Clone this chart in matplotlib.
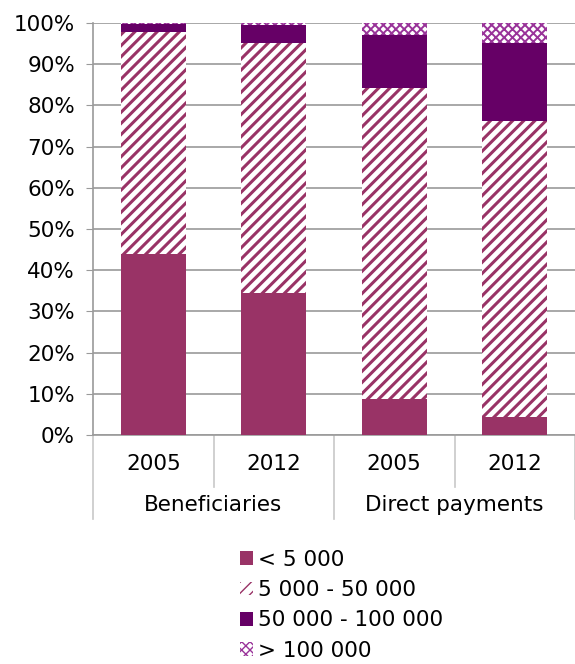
import matplotlib.pyplot as plt
import numpy as np

# ------------------ DATA ------------------ #
years = ["2005", "2012", "2005", "2012"]
groups = ["Beneficiaries", "Direct payments"]
series_labels = ["< 5 000", "5 000 - 50 000", "50 000 - 100 000", "> 100 000"]

small = [43.9, 34.5, 8.7, 4.4]
medium = [53.8, 60.6, 75.5, 71.8]
large = [2.1, 4.4, 12.9, 18.9]
very_large = [0.2, 0.5, 2.9, 4.9]

# ------------------ STYLE ------------------ #
plt.rcParams.update({
    "font.size": 15.5,
    "font.family": "DejaVu Sans",
})

FILL = "#993366"
DARK = "#660066"
CROSS = "#993399"
GRID = "#9a9a9a"

fig = plt.figure(figsize=(5.75, 6.64), dpi=100)
ax = fig.add_axes([93 / 575, 229 / 664, 1 - 93 / 575, 412 / 664])

x = np.arange(len(years))
w = 0.54
series = [small, medium, large, very_large]
styles = [
    (dict(color=FILL), 1.0),
    (dict(facecolor="white", edgecolor=FILL, hatch="///", linewidth=0), 2.2),
    (dict(color=DARK), 1.0),
    (dict(facecolor="white", edgecolor=CROSS, hatch="xxxx", linewidth=0), 1.4),
]

bottom = np.zeros(len(years))
handles = []
for vals, (st, hlw), lab in zip(series, styles, series_labels):
    with plt.rc_context({"hatch.linewidth": hlw}):
        b = ax.bar(x, vals, w, bottom=bottom, label=lab, zorder=3, **st)
    handles.append(b)
    bottom += np.array(vals)

ax.set_xlim(-0.5, len(years) - 0.5)
ax.set_ylim(0, 100)
ax.set_yticks(np.arange(0, 101, 10))
ax.set_yticklabels([f"{v}%" for v in range(0, 101, 10)])
ax.yaxis.grid(True, color=GRID, linewidth=1.2, zorder=0)
ax.tick_params(axis="y", length=5, color=GRID, pad=8)
ax.tick_params(axis="x", length=0)
ax.set_xticks([])
for s in ["top", "right"]:
    ax.spines[s].set_visible(False)
ax.spines["left"].set_color(GRID)
ax.spines["bottom"].set_color(GRID)
ax.spines["left"].set_linewidth(1.2)
ax.spines["bottom"].set_linewidth(1.2)

# category labels below the axis
trans = ax.get_xaxis_transform()
short_y = (435 - 487) / 412
long_y = (435 - 519) / 412
for i, yr in enumerate(years):
    ax.text(i, (435 - 464) / 412, yr, ha="center", va="center", transform=trans)
for k, g in enumerate(groups):
    ax.text(2 * k + 0.5, (435 - 505) / 412, g, ha="center", va="center",
            transform=trans)
for pos in np.arange(-0.5, len(years), 1.0):
    low = long_y if pos in (-0.5, 1.5, 3.5) else short_y
    ax.plot([pos, pos], [0, low], color="#c8c8c8", lw=1.2,
            transform=trans, clip_on=False)

fig.legend(handles=handles, labels=series_labels, loc="upper left",
           bbox_to_anchor=(231 / 575, 1 - 541 / 664), frameon=False,
           handlelength=0.6, handleheight=0.6, handletextpad=0.25,
           labelspacing=0.48, borderaxespad=0, fontsize=15.5)

plt.savefig("out.png", dpi=100)
plt.close()
